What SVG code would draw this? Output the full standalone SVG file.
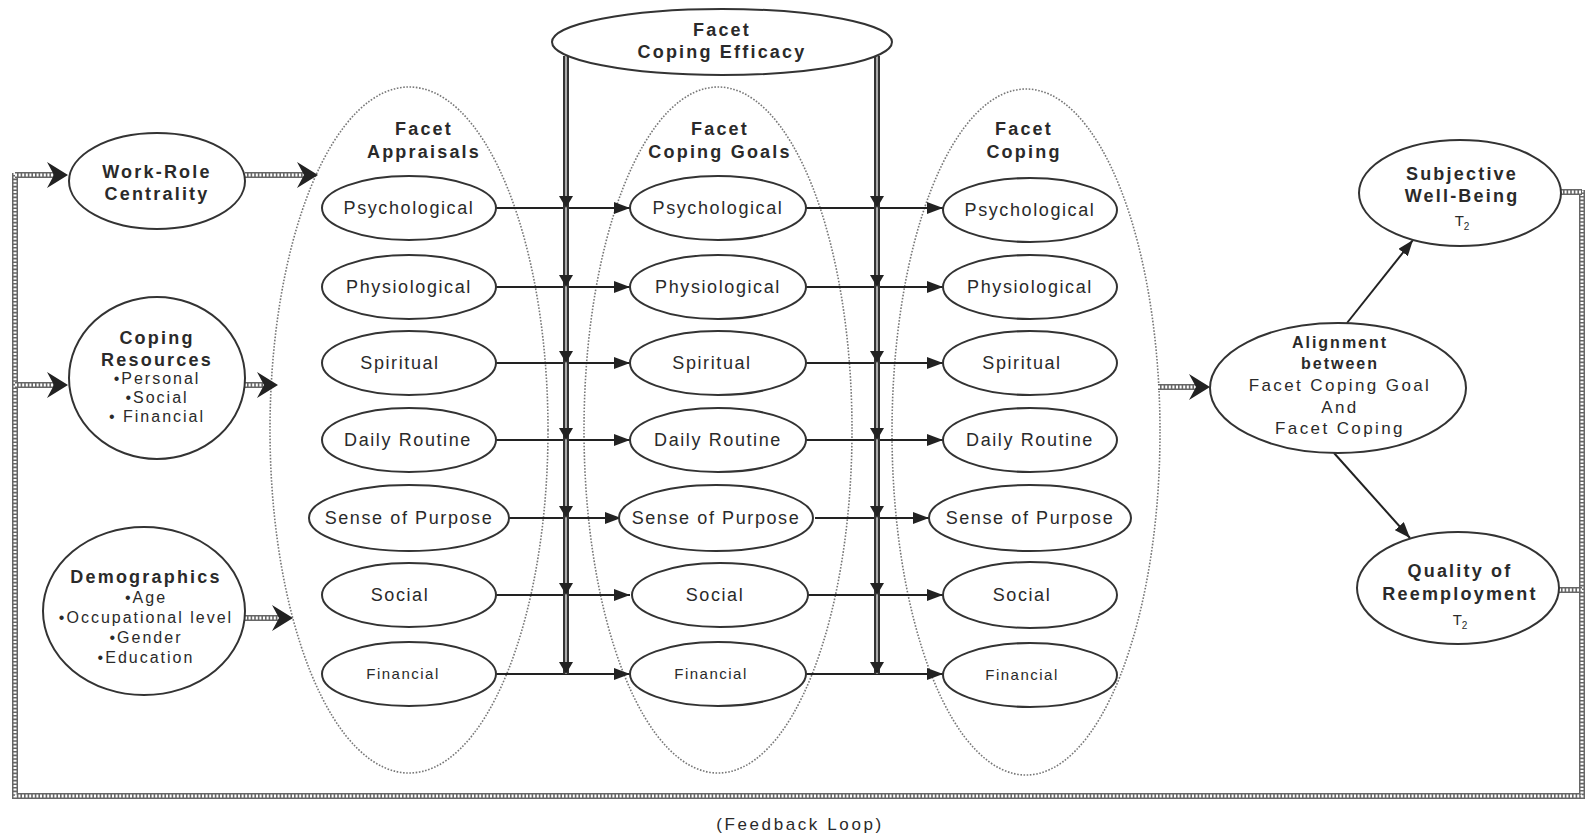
<svg xmlns="http://www.w3.org/2000/svg" xmlns:xlink="http://www.w3.org/1999/xlink" width="1585" height="837" viewBox="0 0 1585 837">
<style>
  text { font-family: "Liberation Sans", Arial, sans-serif; fill: #2a2a2a; text-anchor: middle; }
  .b { font-weight: bold; font-size: 18px; letter-spacing: 2.2px; }
  .r { font-size: 18px; letter-spacing: 1.6px; }
  .s { font-size: 15px; letter-spacing: 1.5px; }
  .m { font-size: 16px; letter-spacing: 2px; }
  .a { font-size: 17px; letter-spacing: 2.4px; }
  .node { fill: #fff; stroke: #333; stroke-width: 2; }
  .group { fill: none; stroke: #777; stroke-width: 1.6; stroke-dasharray: 1.6 1.6; }
  .hatchO { fill: none; stroke: #666; stroke-width: 6; }
  .hatchI { fill: none; stroke: #fff; stroke-width: 3; stroke-dasharray: 2 1.6; }
  .vO { fill: none; stroke: #333; stroke-width: 6; }
  .vI { fill: none; stroke: #aaa; stroke-width: 2; }
  .thin { fill: none; stroke: #222; stroke-width: 2; marker-end: url(#ah); }
  .chev { fill: #222; }
  .vh { fill: #222; }
</style>
<defs>
  <marker id="ah" markerUnits="userSpaceOnUse" markerWidth="16" markerHeight="12" refX="16" refY="6" orient="auto">
    <path d="M0,0 L16,6 L0,12 z" fill="#222"/>
  </marker>
  <path id="chevR" d="M0,0 L-21,-13 L-14,0 L-21,13 z"/>
  <path id="vhead" d="M0,0 L-7,-12 L7,-12 z"/>
  <path id="loop" d="M15,173 L15,796 L1582,796 L1582,190"/>
  <path id="h1" d="M15,175 L54,175"/>
  <path id="h2" d="M245,175 L304,175"/>
  <path id="h3" d="M15,385 L54,385"/>
  <path id="h4" d="M245,385 L264,385"/>
  <path id="h5" d="M245,618 L279,618"/>
  <path id="h6" d="M1158,387 L1196,387"/>
  <path id="h7" d="M1561,192 L1582,192"/>
  <path id="h8" d="M1559,590 L1582,590"/>
  <path id="v1" d="M566,56 L566,674"/>
  <path id="v2" d="M877,56 L877,674"/>
</defs>

<!-- group outlines (dotted) -->
<g id="group-appraisals">
  <ellipse class="group" cx="409" cy="430" rx="139" ry="343"/>
  <text class="b" x="424" y="135">Facet</text>
  <text class="b" x="424" y="158">Appraisals</text>
</g>
<g id="group-goals">
  <ellipse class="group" cx="718" cy="430" rx="134" ry="343"/>
  <text class="b" x="720" y="135">Facet</text>
  <text class="b" x="720" y="158">Coping Goals</text>
</g>
<g id="group-coping">
  <ellipse class="group" cx="1026" cy="432" rx="134" ry="343"/>
  <text class="b" x="1024" y="135">Facet</text>
  <text class="b" x="1024" y="158">Coping</text>
</g>

<!-- connectors -->
<g id="connectors">
  <use href="#loop" class="hatchO"/><use href="#loop" class="hatchI"/>
  <use href="#h1" class="hatchO"/><use href="#h1" class="hatchI"/>
  <use href="#h2" class="hatchO"/><use href="#h2" class="hatchI"/>
  <use href="#h3" class="hatchO"/><use href="#h3" class="hatchI"/>
  <use href="#h4" class="hatchO"/><use href="#h4" class="hatchI"/>
  <use href="#h5" class="hatchO"/><use href="#h5" class="hatchI"/>
  <use href="#h6" class="hatchO"/><use href="#h6" class="hatchI"/>
  <use href="#h7" class="hatchO"/><use href="#h7" class="hatchI"/>
  <use href="#h8" class="hatchO"/><use href="#h8" class="hatchI"/>
  <use href="#chevR" class="chev" x="68" y="175"/>
  <use href="#chevR" class="chev" x="318" y="175"/>
  <use href="#chevR" class="chev" x="68" y="385"/>
  <use href="#chevR" class="chev" x="278" y="385"/>
  <use href="#chevR" class="chev" x="293" y="618"/>
  <use href="#chevR" class="chev" x="1210" y="387"/>

  <!-- horizontal facet arrows -->
  <path class="thin" d="M496,208 L630,208"/>
  <path class="thin" d="M496,287 L630,287"/>
  <path class="thin" d="M496,363 L630,363"/>
  <path class="thin" d="M496,440 L630,440"/>
  <path class="thin" d="M509,518 L621,518"/>
  <path class="thin" d="M496,595 L630,595"/>
  <path class="thin" d="M496,674 L630,674"/>
  <path class="thin" d="M806,208 L943,208"/>
  <path class="thin" d="M806,287 L943,287"/>
  <path class="thin" d="M806,363 L943,363"/>
  <path class="thin" d="M806,440 L943,440"/>
  <path class="thin" d="M815,518 L929,518"/>
  <path class="thin" d="M806,595 L943,595"/>
  <path class="thin" d="M806,674 L943,674"/>

  <!-- efficacy double arrows -->
  <use href="#v1" class="vO"/><use href="#v1" class="vI"/>
  <use href="#v2" class="vO"/><use href="#v2" class="vI"/>
  <use href="#vhead" class="vh" x="566" y="208"/>
  <use href="#vhead" class="vh" x="566" y="287"/>
  <use href="#vhead" class="vh" x="566" y="363"/>
  <use href="#vhead" class="vh" x="566" y="440"/>
  <use href="#vhead" class="vh" x="566" y="518"/>
  <use href="#vhead" class="vh" x="566" y="595"/>
  <use href="#vhead" class="vh" x="566" y="674"/>
  <use href="#vhead" class="vh" x="877" y="208"/>
  <use href="#vhead" class="vh" x="877" y="287"/>
  <use href="#vhead" class="vh" x="877" y="363"/>
  <use href="#vhead" class="vh" x="877" y="440"/>
  <use href="#vhead" class="vh" x="877" y="518"/>
  <use href="#vhead" class="vh" x="877" y="595"/>
  <use href="#vhead" class="vh" x="877" y="674"/>

  <!-- outcome arrows -->
  <path class="thin" d="M1347,323 L1413,240"/>
  <path class="thin" d="M1334,453 L1410,538"/>
</g>

<!-- left nodes -->
<g id="work-role-centrality">
  <ellipse class="node" cx="157" cy="181" rx="88" ry="48"/>
  <text class="b" x="157" y="178">Work-Role</text>
  <text class="b" x="157" y="200">Centrality</text>
</g>
<g id="coping-resources">
  <ellipse class="node" cx="157" cy="378" rx="88" ry="81"/>
  <text class="b" x="157" y="344">Coping</text>
  <text class="b" x="157" y="366">Resources</text>
  <text class="m" x="157" y="384">•Personal</text>
  <text class="m" x="157" y="403">•Social</text>
  <text class="m" x="157" y="422">• Financial</text>
</g>
<g id="demographics">
  <ellipse class="node" cx="144" cy="611" rx="101" ry="84"/>
  <text class="b" x="146" y="583">Demographics</text>
  <text class="m" x="146" y="603">•Age</text>
  <text class="m" x="146" y="623">•Occupational level</text>
  <text class="m" x="146" y="643">•Gender</text>
  <text class="m" x="146" y="663">•Education</text>
</g>

<!-- efficacy -->
<g id="facet-coping-efficacy">
  <ellipse class="node" cx="722" cy="42" rx="170" ry="33"/>
  <text class="b" x="722" y="36">Facet</text>
  <text class="b" x="722" y="58">Coping Efficacy</text>
</g>

<!-- appraisal rows -->
<g id="appraisal-psychological"><ellipse class="node" cx="409" cy="208" rx="87" ry="32"/><text class="r" x="409" y="214">Psychological</text></g>
<g id="appraisal-physiological"><ellipse class="node" cx="409" cy="287" rx="87" ry="32"/><text class="r" x="409" y="293">Physiological</text></g>
<g id="appraisal-spiritual"><ellipse class="node" cx="409" cy="363" rx="87" ry="32"/><text class="r" x="400" y="369">Spiritual</text></g>
<g id="appraisal-daily-routine"><ellipse class="node" cx="409" cy="440" rx="87" ry="32"/><text class="r" x="408" y="446">Daily Routine</text></g>
<g id="appraisal-sense-of-purpose"><ellipse class="node" cx="409" cy="518" rx="100" ry="33"/><text class="r" x="409" y="524">Sense of Purpose</text></g>
<g id="appraisal-social"><ellipse class="node" cx="409" cy="595" rx="87" ry="32"/><text class="r" x="400" y="601">Social</text></g>
<g id="appraisal-financial"><ellipse class="node" cx="409" cy="674" rx="87" ry="32"/><text class="s" x="403" y="679">Financial</text></g>

<!-- goal rows -->
<g id="goal-psychological"><ellipse class="node" cx="718" cy="208" rx="88" ry="32"/><text class="r" x="718" y="214">Psychological</text></g>
<g id="goal-physiological"><ellipse class="node" cx="718" cy="287" rx="88" ry="32"/><text class="r" x="718" y="293">Physiological</text></g>
<g id="goal-spiritual"><ellipse class="node" cx="718" cy="363" rx="88" ry="32"/><text class="r" x="712" y="369">Spiritual</text></g>
<g id="goal-daily-routine"><ellipse class="node" cx="718" cy="440" rx="88" ry="32"/><text class="r" x="718" y="446">Daily Routine</text></g>
<g id="goal-sense-of-purpose"><ellipse class="node" cx="716" cy="518" rx="97" ry="33"/><text class="r" x="716" y="524">Sense of Purpose</text></g>
<g id="goal-social"><ellipse class="node" cx="720" cy="595" rx="88" ry="32"/><text class="r" x="715" y="601">Social</text></g>
<g id="goal-financial"><ellipse class="node" cx="718" cy="674" rx="88" ry="32"/><text class="s" x="711" y="679">Financial</text></g>

<!-- coping rows -->
<g id="coping-psychological"><ellipse class="node" cx="1030" cy="210" rx="87" ry="32"/><text class="r" x="1030" y="216">Psychological</text></g>
<g id="coping-physiological"><ellipse class="node" cx="1030" cy="287" rx="87" ry="32"/><text class="r" x="1030" y="293">Physiological</text></g>
<g id="coping-spiritual"><ellipse class="node" cx="1030" cy="363" rx="87" ry="32"/><text class="r" x="1022" y="369">Spiritual</text></g>
<g id="coping-daily-routine"><ellipse class="node" cx="1030" cy="440" rx="87" ry="32"/><text class="r" x="1030" y="446">Daily Routine</text></g>
<g id="coping-sense-of-purpose"><ellipse class="node" cx="1030" cy="518" rx="101" ry="33"/><text class="r" x="1030" y="524">Sense of Purpose</text></g>
<g id="coping-social"><ellipse class="node" cx="1030" cy="595" rx="87" ry="33"/><text class="r" x="1022" y="601">Social</text></g>
<g id="coping-financial"><ellipse class="node" cx="1030" cy="675" rx="87" ry="32"/><text class="s" x="1022" y="680">Financial</text></g>

<!-- right nodes -->
<g id="alignment">
  <ellipse class="node" cx="1338" cy="388" rx="128" ry="65"/>
  <text class="a" x="1340" y="348" font-weight="bold" style="font-size:16px;letter-spacing:2px">Alignment</text>
  <text class="a" x="1340" y="369" font-weight="bold" style="font-size:16px;letter-spacing:2px">between</text>
  <text class="a" x="1340" y="391">Facet Coping Goal</text>
  <text class="a" x="1340" y="413">And</text>
  <text class="a" x="1340" y="434">Facet Coping</text>
</g>
<g id="subjective-well-being">
  <ellipse class="node" cx="1460" cy="193" rx="101" ry="53"/>
  <text class="b" x="1462" y="180">Subjective</text>
  <text class="b" x="1462" y="202">Well-Being</text>
  <text x="1462" y="226" style="font-size:15px">T<tspan dy="4" style="font-size:10px">2</tspan></text>
</g>
<g id="quality-of-reemployment">
  <ellipse class="node" cx="1458" cy="588" rx="101" ry="56"/>
  <text class="b" x="1460" y="577">Quality of</text>
  <text class="b" x="1460" y="600">Reemployment</text>
  <text x="1460" y="625" style="font-size:15px">T<tspan dy="4" style="font-size:10px">2</tspan></text>
</g>

<g id="feedback-label">
  <text x="800" y="830" style="font-size:17px;letter-spacing:2.6px">(Feedback Loop)</text>
</g>
</svg>
